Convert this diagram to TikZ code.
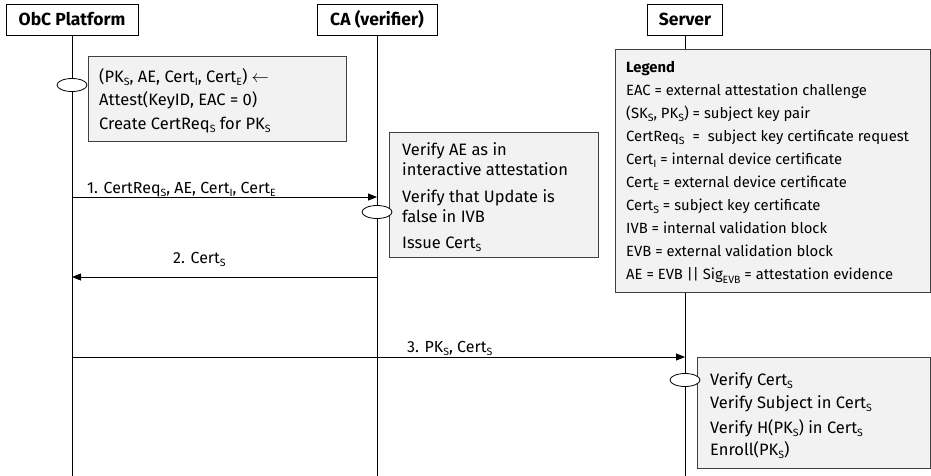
\documentclass[tikz,border=0pt]{standalone}
\usepackage{fontspec}
\setmainfont{Fira Sans}
\usetikzlibrary{arrows.meta,shapes.geometric}
\newcommand{\lo}[1]{\raisebox{-0.4ex}{\fontsize{10.5}{11}\selectfont #1}}
\begin{document}
\begin{tikzpicture}[x=1pt,y=-1pt,
  head/.style={draw=black, line width=0.8pt, fill=white, font=\fontsize{17.5}{18}\selectfont\bfseries, inner sep=0pt, minimum height=31pt},
  note/.style={draw=black!75, line width=1.3pt, fill=black!5, inner sep=0pt, anchor=north west},
  txt/.style={anchor=base west, inner sep=0pt, font=\fontsize{16.5}{17}\selectfont},
  lbl/.style={anchor=base west, inner sep=0pt, font=\fontsize{16}{17}\selectfont},
  lgd/.style={anchor=base west, inner sep=0pt, font=\fontsize{14.8}{16}\selectfont},
  life/.style={line width=0.8pt},
  act/.style={ellipse, draw=black, fill=white, line width=0.8pt, minimum width=30pt, minimum height=13pt, inner sep=0pt},
  msg/.style={line width=0.8pt, -{Triangle[length=9pt,width=7pt]}}]
\useasboundingbox (0,0) rectangle (931,475);
\coordinate (bot) at (0,476);
\coordinate (y1) at (0,197);
\coordinate (y2) at (0,277);
\coordinate (y3) at (0,357);
\coordinate (ya) at (0,85);
\coordinate (yb) at (0,212);
\coordinate (yc) at (0,380);
% headers
\node[head, minimum width=132pt] (obc) at (72,19.5) {ObC Platform};
\node[head, minimum width=120pt] (ca) at (377,19.5) {CA (verifier)};
\node[head, minimum width=75pt] (srv) at (685,19.5) {Server};
% lifelines
\coordinate (obcbot) at (obc.south |- bot);
\coordinate (cabot) at (ca.south |- bot);
\coordinate (srvbot) at (srv.south |- bot);
\draw[life] (obc.south) -- (obcbot);
\draw[life] (ca.south) -- (cabot);
\draw[life] (srv.south) -- (srvbot);
% messages
\coordinate (m1a) at (obc.south |- y1);
\coordinate (m1b) at (ca.south |- y1);
\coordinate (m2a) at (ca.south |- y2);
\coordinate (m2b) at (obc.south |- y2);
\coordinate (m3a) at (obc.south |- y3);
\coordinate (m3b) at (srv.south |- y3);
\draw[msg] (m1a) -- (m1b);
\draw[msg] (m2a) -- (m2b);
\draw[msg] (m3a) -- (m3b);
\node[lbl] (l1) at (87,193) {1. CertReq\lo{S}, AE, Cert\lo{I}, Cert\lo{E}};
\node[lbl] (l2) at (173,263) {2. Cert\lo{S}};
\node[lbl] (l3) at (407,352) {3. PK\lo{S}, Cert\lo{S}};
% note boxes
\node[note, minimum width=258pt, minimum height=85pt] (obcnote) at (88,56) {};
\node[note, minimum width=209pt, minimum height=125pt] (canote) at (389,132) {};
\node[note, minimum width=315pt, minimum height=243pt] (legend) at (615,49) {};
\node[note, minimum width=233pt, minimum height=111pt] (srvnote) at (697,357) {};
% activations
\node[act] (obcact) at (obc.south |- ya) {};
\node[act] (caact) at (ca.south |- yb) {};
\node[act] (srvact) at (srv.south |- yc) {};
% ObC note text
\node[txt] (o1) at (99,82) {(PK\lo{S}, AE, Cert\lo{I}, Cert\lo{E}) $\leftarrow$};
\node[txt] (o2) at (99,105) {Attest(KeyID, EAC = 0)};
\node[txt] (o3) at (99,129) {Create CertReq\lo{S} for PK\lo{S}};
% CA note text
\node[txt] (c1) at (402,155) {Verify AE as in};
\node[txt] (c2) at (402,175) {interactive attestation};
\node[txt] (c3) at (402,202) {Verify that Update is};
\node[txt] (c4) at (402,222) {false in IVB};
\node[txt] (c5) at (402,248) {Issue Cert\lo{S}};
% legend text
\node[lgd, font=\fontsize{14.8}{16}\selectfont\bfseries] (g0) at (626,72) {Legend};
\node[lgd] (g1) at (626,95.1) {EAC = external attestation challenge};
\node[lgd] (g2) at (626,118.2) {(SK\lo{S}, PK\lo{S}) = subject key pair};
\node[lgd] (g3) at (626,141.3) {CertReq\lo{S} \ = \ subject key certificate request};
\node[lgd] (g4) at (626,164.4) {Cert\lo{I} = internal device certificate};
\node[lgd] (g5) at (626,187.5) {Cert\lo{E} = external device certificate};
\node[lgd] (g6) at (626,210.6) {Cert\lo{S} = subject key certificate};
\node[lgd] (g7) at (626,233.7) {IVB = internal validation block};
\node[lgd] (g8) at (626,256.8) {EVB = external validation block};
\node[lgd] (g9) at (626,279.9) {AE = EVB || Sig\lo{EVB} = attestation evidence};
% server note text
\node[txt] (s1) at (710,385) {Verify Cert\lo{S}};
\node[txt] (s2) at (710,408) {Verify Subject in Cert\lo{S}};
\node[txt] (s3) at (710,433) {Verify H(PK\lo{S}) in Cert\lo{S}};
\node[txt] (s4) at (710,455) {Enroll(PK\lo{S})};
\end{tikzpicture}
\end{document}
